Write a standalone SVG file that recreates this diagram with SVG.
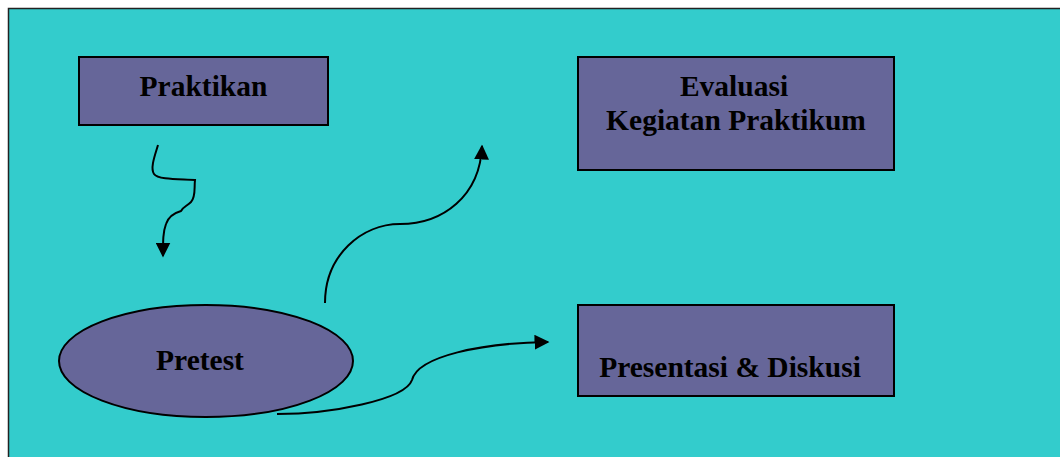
<svg xmlns="http://www.w3.org/2000/svg" width="1060" height="457" viewBox="0 0 1060 457">
<defs>
<style>
.node{fill:#666699;stroke:#000;stroke-width:2}
.lbl{font-family:"Liberation Serif",serif;font-weight:bold;font-size:29.5px;fill:#000;text-anchor:middle}
.conn{fill:none;stroke:#000;stroke-width:2}
</style>
<marker id="arr" viewBox="0 0 10 10" refX="9" refY="5" markerWidth="15" markerHeight="15" markerUnits="userSpaceOnUse" orient="auto">
<path d="M0,0 L10,5 L0,10 Z" fill="#000"/>
</marker>
</defs>
<rect x="0" y="0" width="1060" height="457" fill="#fff"/>
<rect x="8.5" y="8.5" width="1060" height="460" fill="#33CCCC" stroke="#222" stroke-width="1.5"/>
<g id="praktikan">
<rect class="node" x="79" y="57" width="249" height="68"/>
<text class="lbl" x="203.5" y="95.5">Praktikan</text>
</g>
<g id="evaluasi">
<rect class="node" x="578" y="57" width="316" height="113"/>
<text class="lbl" x="734" y="96">Evaluasi</text>
<text class="lbl" x="736" y="130">Kegiatan Praktikum</text>
</g>
<g id="presentasi">
<rect class="node" x="578" y="305" width="316" height="91"/>
<text class="lbl" x="730" y="377">Presentasi &amp; Diskusi</text>
</g>
<g id="pretest">
<ellipse class="node" cx="206" cy="361" rx="147" ry="56"/>
<text class="lbl" x="200" y="370">Pretest</text>
</g>
<g id="connectors">
<path class="conn" marker-end="url(#arr)" d="M158,145 C155,155 150,168 154,174 C158,180 180,179 195,180 C194,188 196,197 191,202 C187,206 183,207 181,211 C174,213 168,218 166,224 C163,232 163,240 163,256"/>
<path class="conn" marker-end="url(#arr)" d="M325,303 C325,255 362,224 400,224 C443,224 480,196 482,146"/>
<path class="conn" marker-end="url(#arr)" d="M277,414 C330,414 405,400 412,380 C418,356 482,343 548,342"/>
</g>
</svg>
